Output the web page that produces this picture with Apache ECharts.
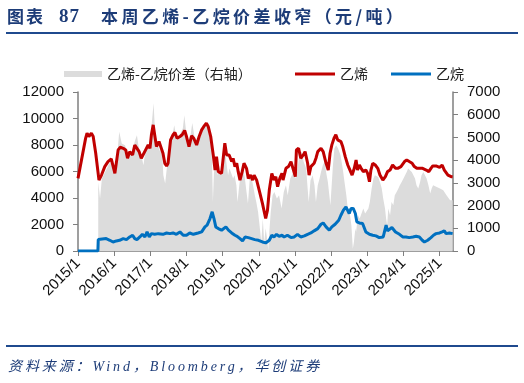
<!DOCTYPE html>
<html>
<head>
<meta charset="utf-8">
<script src="https://cdn.jsdelivr.net/npm/echarts@6/dist/echarts.min.js"></script>
<style>
html,body{margin:0;padding:0;background:#fff;}
#wrap{position:relative;width:524px;height:383px;overflow:hidden;}
#chart{position:absolute;left:0;top:0;width:524px;height:383px;}
.t{position:absolute;font-family:"Noto Sans CJK SC","Noto Sans",sans-serif;font-weight:bold;color:#1d3c78;font-size:17px;line-height:20px;white-space:nowrap;letter-spacing:3.4px;}
.rule{position:absolute;left:6px;width:512px;height:2px;background:#1f4a8e;}
#src{position:absolute;left:8px;top:357px;font-family:"Liberation Serif","Noto Sans CJK SC",serif;font-style:italic;color:#1d3c78;font-size:14px;line-height:20px;letter-spacing:2.9px;white-space:nowrap;}
</style>
</head>
<body>
<div id="wrap">
<div id="chart"></div>
<div class="t" style="left:7px;top:6px;letter-spacing:2px;">图表</div>
<div class="t" style="left:59px;top:6px;font-family:'Liberation Serif',serif;font-size:19px;letter-spacing:1px;">87</div>
<div class="t" style="left:101px;top:6px;">本周乙烯-乙烷价差收窄（元/吨）</div>
<div class="rule" style="top:32px;"></div>
<div class="rule" style="top:345px;"></div>
<div id="src">资料来源：Wind，Bloomberg，华创证券</div>
</div>
<script>
// ---- data (x = decimal year) ----
const yearTicks = [2015,2016,2017,2018,2019,2020,2021,2022,2023,2024,2025];

const ethyleneX = [2015.00,2015.21,2015.25,2015.30,2015.37,2015.42,2015.49,2015.58,2015.65,2015.74,2015.83,2015.92,2016.02,2016.11,2016.17,2016.25,2016.32,2016.37,2016.43,2016.51,2016.57,2016.63,2016.69,2016.75,2016.80,2016.87,2016.94,2016.99,2017.03,2017.08,2017.12,2017.17,2017.24,2017.29,2017.35,2017.40,2017.45,2017.49,2017.56,2017.63,2017.68,2017.74,2017.82,2017.88,2017.95,2018.00,2018.07,2018.14,2018.20,2018.28,2018.35,2018.42,2018.48,2018.55,2018.60,2018.67,2018.74,2018.79,2018.83,2018.88,2018.92,2018.97,2019.02,2019.06,2019.11,2019.18,2019.25,2019.29,2019.34,2019.39,2019.43,2019.48,2019.54,2019.59,2019.66,2019.71,2019.77,2019.83,2019.87,2019.94,2020.01,2020.10,2020.19,2020.24,2020.29,2020.36,2020.42,2020.47,2020.52,2020.58,2020.64,2020.67,2020.75,2020.82,2020.89,2020.93,2021.01,2021.04,2021.10,2021.16,2021.23,2021.28,2021.35,2021.39,2021.44,2021.49,2021.53,2021.58,2021.63,2021.72,2021.78,2021.86,2021.92,2021.97,2022.02,2022.08,2022.13,2022.18,2022.27,2022.32,2022.39,2022.46,2022.50,2022.58,2022.64,2022.69,2022.73,2022.78,2022.83,2022.89,2022.96,2023.01,2023.06,2023.10,2023.15,2023.22,2023.29,2023.35,2023.43,2023.50,2023.56,2023.63,2023.70,2023.78,2023.84,2023.93,2024.03,2024.09,2024.16,2024.24,2024.30,2024.37,2024.44,2024.53,2024.63,2024.70,2024.76,2024.81,2024.90,2025.00,2025.07,2025.13,2025.23,2025.32,2025.36];
const ethylene = [5480,8500,8900,8640,8900,8640,7380,5350,5730,6370,6750,6950,5860,7630,7830,7750,7630,7000,7500,7250,8000,7750,7500,7000,6870,7630,8000,7750,8770,9520,8770,7880,8260,8260,7380,6620,6420,6620,8390,8770,8940,8510,8640,8770,9090,8640,7880,8690,8510,8000,8640,9140,9400,9650,9400,8640,7250,6110,7120,5990,6110,5860,7120,8130,7250,7250,6750,7000,6370,6620,5990,5350,5990,6620,6240,5480,5730,5350,5730,5350,4600,3590,2450,3080,4600,5860,5350,5610,4850,5480,5860,5350,6240,6370,6750,6870,5610,7630,7750,7000,7250,7500,6620,5730,6370,6370,6620,7000,7500,7750,7500,6620,6110,7380,8010,8510,8770,8390,8260,7880,7120,6490,6240,5730,6240,6870,6110,6490,6240,5990,6110,5860,5230,6110,6620,6490,6240,5730,5350,5610,5990,6110,6490,6240,6240,6370,6750,6870,6750,6620,6370,6240,6240,6240,6110,5990,6240,6420,6420,6310,6490,6110,5730,5610,5600];

const ethaneX = [2015.00,2015.55,2015.56,2015.78,2015.88,2015.97,2016.06,2016.15,2016.25,2016.34,2016.43,2016.51,2016.57,2016.63,2016.71,2016.78,2016.85,2016.91,2016.97,2017.03,2017.12,2017.22,2017.35,2017.45,2017.54,2017.63,2017.72,2017.82,2017.91,2018.00,2018.09,2018.19,2018.32,2018.42,2018.51,2018.57,2018.65,2018.71,2018.76,2018.81,2018.88,2018.97,2019.02,2019.09,2019.16,2019.25,2019.34,2019.40,2019.48,2019.55,2019.62,2019.71,2019.80,2019.89,2019.99,2020.10,2020.19,2020.24,2020.29,2020.36,2020.42,2020.49,2020.56,2020.64,2020.70,2020.79,2020.89,2020.98,2021.07,2021.16,2021.26,2021.35,2021.44,2021.53,2021.63,2021.72,2021.78,2021.86,2021.95,2022.02,2022.11,2022.21,2022.27,2022.34,2022.41,2022.46,2022.50,2022.55,2022.61,2022.67,2022.71,2022.78,2022.87,2022.96,2023.06,2023.15,2023.24,2023.33,2023.44,2023.52,2023.56,2023.61,2023.68,2023.78,2023.89,2023.98,2024.07,2024.16,2024.26,2024.35,2024.44,2024.52,2024.58,2024.67,2024.76,2024.83,2024.90,2025.00,2025.07,2025.13,2025.18,2025.27,2025.36];
const ethane = [0,0,860,935,810,680,760,810,935,860,1060,1190,935,860,1060,1260,1060,1440,1060,1310,1260,1310,1260,1360,1310,1360,1260,1440,1190,1190,1360,1260,1360,1440,1820,1950,2450,2960,2450,1820,1690,1570,1690,1820,1570,1360,1190,1110,930,760,1060,1010,935,860,810,680,610,505,810,1190,1060,1260,1110,1190,1060,1190,1010,1060,1260,1060,1140,1260,1360,1520,1690,2020,2120,1820,1570,1820,2020,2320,2700,3080,3330,3210,2830,3210,3210,2830,2200,2120,2070,1440,1260,1190,1140,1010,1060,1950,1520,1620,1770,1440,1260,1060,1060,1010,1060,1110,1060,810,680,810,1010,1190,1310,1360,1440,1520,1310,1360,1310];

const spreadX = [2015.56,2015.61,2015.66,2015.75,2015.84,2015.93,2016.02,2016.07,2016.14,2016.21,2016.30,2016.39,2016.49,2016.58,2016.63,2016.67,2016.76,2016.81,2016.86,2016.93,2016.99,2017.04,2017.09,2017.13,2017.18,2017.27,2017.32,2017.36,2017.41,2017.46,2017.52,2017.60,2017.66,2017.72,2017.81,2017.90,2017.94,2017.99,2018.08,2018.16,2018.22,2018.31,2018.41,2018.50,2018.56,2018.64,2018.69,2018.71,2018.73,2018.76,2018.81,2018.87,2018.92,2018.96,2019.01,2019.06,2019.10,2019.15,2019.19,2019.24,2019.29,2019.33,2019.38,2019.41,2019.47,2019.52,2019.56,2019.61,2019.66,2019.70,2019.75,2019.79,2019.84,2019.89,2019.93,2019.98,2020.02,2020.07,2020.11,2020.15,2020.19,2020.24,2020.26,2020.29,2020.33,2020.38,2020.43,2020.50,2020.56,2020.63,2020.69,2020.75,2020.80,2020.87,2020.94,2020.98,2021.03,2021.07,2021.12,2021.19,2021.24,2021.31,2021.35,2021.38,2021.43,2021.49,2021.54,2021.58,2021.63,2021.68,2021.72,2021.77,2021.82,2021.86,2021.91,2021.95,2021.98,2022.05,2022.09,2022.14,2022.19,2022.26,2022.32,2022.37,2022.42,2022.46,2022.51,2022.56,2022.60,2022.63,2022.67,2022.69,2022.74,2022.79,2022.84,2022.89,2022.94,2022.98,2023.03,2023.07,2023.12,2023.17,2023.21,2023.26,2023.30,2023.35,2023.40,2023.44,2023.49,2023.52,2023.55,2023.58,2023.63,2023.67,2023.72,2023.76,2023.81,2023.86,2023.90,2023.95,2024.00,2024.04,2024.09,2024.13,2024.18,2024.23,2024.27,2024.32,2024.36,2024.41,2024.46,2024.50,2024.55,2024.59,2024.64,2024.69,2024.74,2024.78,2024.82,2024.87,2024.92,2024.96,2025.01,2025.06,2025.10,2025.15,2025.19,2025.24,2025.29,2025.36];
const spread = [3040,2310,3190,3480,3780,4000,3630,3930,5250,4730,4660,4220,4370,4880,5100,4660,4150,3780,4370,4660,4730,4660,6500,5250,4800,4370,4590,3340,2970,3700,4510,4950,5540,5030,5100,5400,5980,5250,4730,5630,5030,4880,5320,5540,5630,5100,4730,3630,2160,3480,3780,3340,3780,3340,4370,4660,3930,3340,3630,3700,3190,3340,2900,2160,3040,3480,3630,3260,2600,2090,3190,3340,2900,2450,2160,1720,1130,400,1420,400,1000,400,30,840,1720,2450,2600,2310,2450,1870,2600,2890,2450,3190,3410,3480,3190,3630,4220,4370,3930,3630,2750,2160,3110,3340,2890,2160,2890,3190,3480,3780,3930,3480,3040,2450,2010,3780,4520,4660,4520,4220,3630,3040,2450,1870,1720,1130,100,400,990,840,1570,1430,1650,1870,1650,1720,1870,2160,2750,3190,3340,3410,3260,3040,2750,2310,1870,1430,1130,1870,1570,2160,2010,2450,2600,2750,2890,3040,3190,3260,3480,3630,3700,3480,3410,3190,2900,2750,3040,3340,3480,3410,3190,2900,2530,2750,2900,2970,2820,2900,2750,2820,2680,2600,2450,2380,2230,2230,2160];

const leftTicks = [0,2000,4000,6000,8000,10000,12000];
const rightTicks = [0,1000,2000,3000,4000,5000,6000,7000];
const names = ['乙烯-乙烷价差（右轴）','乙烯','乙烷'];

// ---- chart ----
const pair = (xs, ys) => xs.map((x, i) => [x, ys[i]]);
const chart = echarts.init(document.getElementById('chart'), null, {renderer: 'canvas'});
const axisGray = '#7f7f7f';
const labelFont = {color: '#111', fontSize: 15, fontFamily: 'Liberation Sans, Arial, sans-serif'};
const legendText = {color: '#222', fontSize: 14, fontFamily: 'Noto Sans CJK SC, sans-serif'};

chart.setOption({
  animation: false,
  backgroundColor: 'transparent',
  grid: {left: 78, right: 71, top: 92, bottom: 132, containLabel: false},
  legend: [
    {data: [names[0]], left: 64, top: 67, padding: 0, itemWidth: 38, itemHeight: 6, icon: 'rect', textStyle: legendText, itemStyle: {color: '#dcdcdc'}},
    {data: [names[1]], left: 295, top: 67, padding: 0, itemWidth: 40, itemHeight: 3, icon: 'rect', textStyle: legendText},
    {data: [names[2]], left: 391, top: 67, padding: 0, itemWidth: 40, itemHeight: 3, icon: 'rect', textStyle: legendText}
  ],
  xAxis: {
    type: 'value', min: 2015, max: 2025.37, interval: 1,
    splitLine: {show: false},
    axisLine: {lineStyle: {color: axisGray, width: 1.5}},
    axisTick: {show: true, length: 5, lineStyle: {color: axisGray}, customValues: yearTicks},
    axisLabel: Object.assign({rotate: 45, margin: 10, customValues: yearTicks, formatter: v => Math.round(v) + '/1'}, labelFont)
  },
  yAxis: [
    {
      type: 'value', min: leftTicks[0], max: leftTicks[leftTicks.length - 1], interval: 2000,
      splitLine: {show: false},
      axisLine: {show: true, lineStyle: {color: axisGray, width: 1.5}},
      axisTick: {show: true, length: 5, lineStyle: {color: axisGray}},
      axisLabel: Object.assign({margin: 14, formatter: v => String(v)}, labelFont)
    },
    {
      type: 'value', min: rightTicks[0], max: rightTicks[rightTicks.length - 1], interval: 1000,
      splitLine: {show: false},
      axisLine: {show: true, lineStyle: {color: axisGray, width: 1.5}},
      axisTick: {show: true, length: 5, lineStyle: {color: axisGray}},
      axisLabel: Object.assign({margin: 14, formatter: v => String(v)}, labelFont)
    }
  ],
  series: [
    {
      name: names[0], type: 'line', yAxisIndex: 1, showSymbol: false, z: 1,
      data: pair(spreadX, spread),
      lineStyle: {width: 0, color: '#dcdcdc'},
      itemStyle: {color: '#dcdcdc'},
      areaStyle: {color: '#dcdcdc', opacity: 1}
    },
    {
      name: names[1], type: 'line', yAxisIndex: 0, showSymbol: false, z: 3,
      data: pair(ethyleneX, ethylene),
      lineStyle: {width: 3, color: '#c00000'},
      itemStyle: {color: '#c00000'}
    },
    {
      name: names[2], type: 'line', yAxisIndex: 0, showSymbol: false, z: 4,
      data: pair(ethaneX, ethane),
      lineStyle: {width: 3, color: '#0070c0'},
      itemStyle: {color: '#0070c0'}
    }
  ]
});
</script>
</body>
</html>
